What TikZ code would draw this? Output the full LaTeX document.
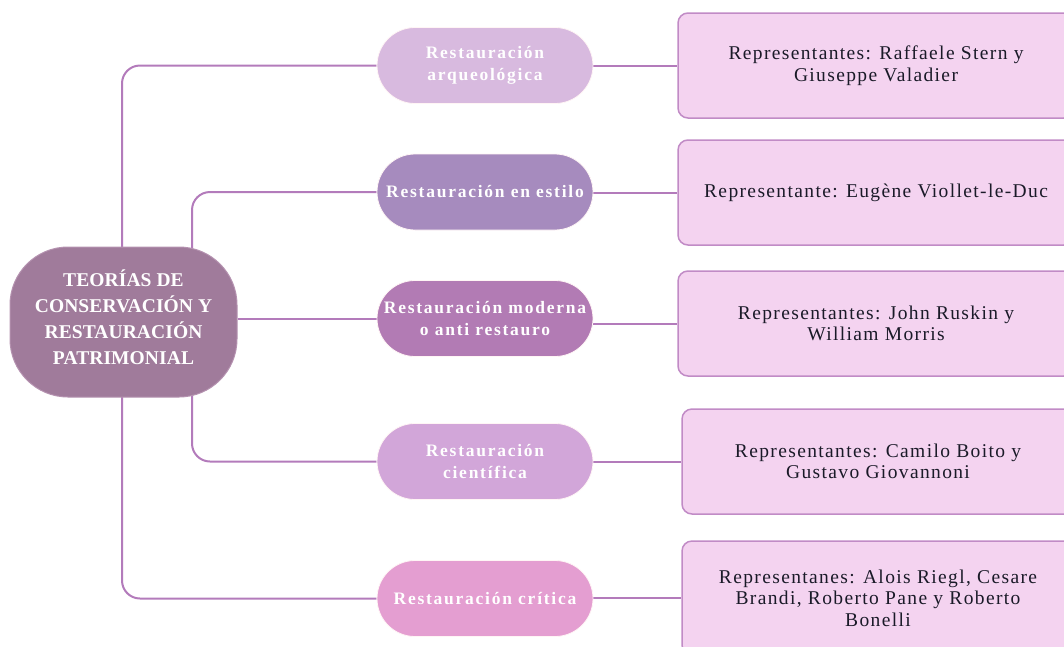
\documentclass[tikz,border=0pt]{standalone}
\usepackage{fontspec}
\setmainfont{Liberation Serif}
\newfontfamily\boxfont[LetterSpace=7]{Liberation Serif}
\newfontfamily\pillfont[LetterSpace=10]{Liberation Serif}
\newfontfamily\centfont[LetterSpace=0.5]{Liberation Serif}
\usetikzlibrary{backgrounds}
\definecolor{centc}{HTML}{A07B9B}
\definecolor{centb}{HTML}{B592B0}
\definecolor{pA}{HTML}{D8BADF}
\definecolor{pB}{HTML}{A68BBE}
\definecolor{pC}{HTML}{B27BB4}
\definecolor{pD}{HTML}{D2A6D9}
\definecolor{pE}{HTML}{E49ED1}
\definecolor{boxf}{HTML}{F4D3F0}
\definecolor{boxd}{HTML}{C18BC6}
\definecolor{linec}{HTML}{B37BBB}
\definecolor{txt}{HTML}{1A1A28}
\tikzset{
  central/.style={rectangle, rounded corners=58pt, fill=centc, draw=centb, line width=1pt,
    minimum width=227pt, minimum height=150pt, text=white, align=center, text depth=10pt,
    font=\centfont\bfseries\fontsize{19.5}{26}\selectfont},
  pill/.style={rectangle, rounded corners=38pt, draw=white!85!pink, line width=0.8pt,
    minimum width=216pt, minimum height=76pt, inner sep=0pt, text=white, align=center,
    font=\pillfont\bfseries\fontsize{17.5}{22}\selectfont},
  repbox/.style={rectangle, rounded corners=10pt, fill=boxf, draw=boxd, line width=1.5pt,
    minimum height=105pt, inner sep=0pt, text=txt, align=center,
    font=\boxfont\fontsize{19.5}{21.5}\selectfont},
  conn/.style={draw=linec, line width=2pt, rounded corners=18pt}
}
\begin{document}
\begin{tikzpicture}[x=1pt,y=-1pt]
\useasboundingbox (0,0) rectangle (1064,646);
\clip (0,0) rectangle (1064,646);
\node[central] (c) at (123.5,322) {TEORÍAS DE\\CONSERVACIÓN Y\\RESTAURACIÓN\\PATRIMONIAL};
\node[pill, fill=pA] (p1) at (485,65.5) {Restauración\\arqueológica};
\node[pill, fill=pB] (p2) at (485,192) {Restauración en estilo};
\node[pill, fill=pC] (p3) at (485,318.5) {Restauración moderna\\o anti restauro};
\node[pill, fill=pD] (p4) at (485,461.5) {Restauración\\científica};
\node[pill, fill=pE] (p5) at (485,598.5) {Restauración crítica};
\node[repbox, minimum width=396pt] (b1) at (876,65.5) {Representantes: Raffaele Stern y\\Giuseppe Valadier};
\node[repbox, minimum width=396pt] (b2) at (876,192.5) {Representante: Eugène Viollet-le-Duc};
\node[repbox, minimum width=396pt] (b3) at (876,323.5) {Representantes: John Ruskin y\\William Morris};
\node[repbox, minimum width=392pt] (b4) at (878,461.5) {Representantes: Camilo Boito y\\Gustavo Giovannoni};
\node[repbox, minimum width=392pt, minimum height=114pt] (b5) at (878,598) {Representanes: Alois Riegl, Cesare\\Brandi, Roberto Pane y Roberto\\Bonelli};
\begin{pgfonlayer}{background}
\draw[conn] ([xshift=-1.5pt]c.center) |- (p1.west);
\draw[conn] ([xshift=68.5pt]c.center) |- (p2.west);
\draw[conn] (c.east |- p3.west) -- (p3.west);
\draw[conn] ([xshift=68.5pt]c.center) |- (p4.west);
\draw[conn] ([xshift=-1.5pt]c.center) |- (p5.west);
\draw[conn] (p1.east |- b1.west) -- (b1.west);
\draw[conn] (p2.east |- b2.west) -- (b2.west);
\draw[conn] (p3.east |- b3.west) -- (b3.west);
\draw[conn] (p4.east |- b4.west) -- (b4.west);
\draw[conn] (p5.east |- b5.west) -- (b5.west);
\end{pgfonlayer}
\end{tikzpicture}
\end{document}
